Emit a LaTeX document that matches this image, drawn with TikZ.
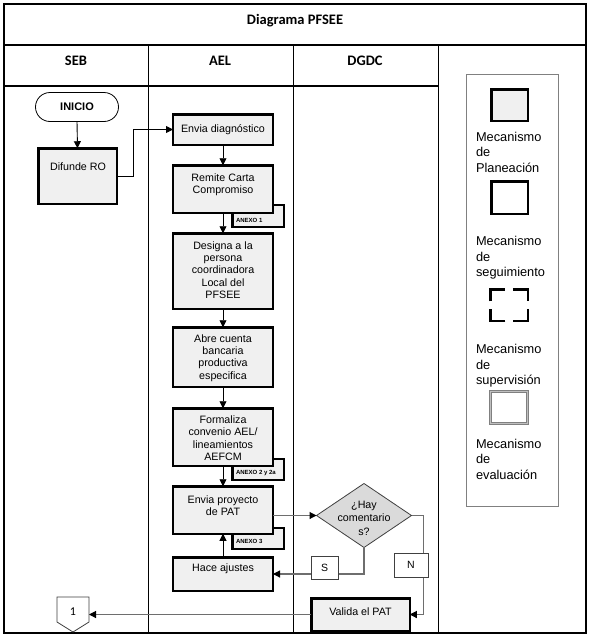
\documentclass[tikz,border=0pt]{standalone}
\usepackage{fontspec}
\setmainfont{Liberation Sans}
\newfontfamily\calibri{Carlito}
\usetikzlibrary{arrows.meta,shapes.geometric}
\definecolor{boxfill}{RGB}{240,240,240}
\definecolor{diafill}{RGB}{218,218,218}
\definecolor{lgray}{RGB}{110,110,110}
\begin{document}
\begin{tikzpicture}[x=1pt,y=-1pt,
  every node/.style={inner sep=0pt, outer sep=0pt},
  pbox/.style={draw=black, line width=2.5pt, fill=boxfill, minimum width=100pt},
  txt/.style={font=\fontsize{10.7}{12.4}\selectfont, align=center},
  tabbox/.style={draw=black, line width=2.5pt, fill=boxfill},
  tabtxt/.style={font=\bfseries\fontsize{6}{7}\selectfont, anchor=west},
  tip/.style={-{Triangle[length=7pt,width=7pt,color=black]}},
  arr/.style={tip, draw=black, line width=0.9pt},
  garr/.style={draw=lgray, line width=1.1pt},
  hdr/.style={font=\calibri\bfseries\fontsize{14.5}{17}\selectfont},
  leg/.style={font=\fontsize{12.8}{15.5}\selectfont, align=left, anchor=west},
  smallbox/.style={draw=darkgray, line width=0.8pt, fill=white, font=\fontsize{10.5}{12}\selectfont}]

\useasboundingbox (0,0) rectangle (590,637);
\fill[white] (0,0) rectangle (590,637);

% frame
\draw[line width=1.4pt] (4,4) rectangle (586,633);
\draw[line width=1.4pt] (4,45) -- (586,45);
\draw[line width=1.2pt] (4,86) -- (438,86);
\foreach \x in {148,293,438} \draw[line width=1pt] (\x,45) -- (\x,633);

% headers
\node[hdr] (title) at (295,21) {Diagrama PFSEE};
\node[hdr] (hseb) at (76,61) {SEB};
\node[hdr] (hael) at (220,61) {AEL};
\node[hdr] (hdgdc) at (365,61) {DGDC};

% SEB lane
\node[draw=black, line width=0.8pt, fill=white, rounded corners=14.5pt,
      minimum width=83pt, minimum height=29pt] (inicio) at (77,107) {};
\node[font=\bfseries\fontsize{11}{13}\selectfont] (tinicio) at (77,107) {INICIO};
\node[pbox, minimum width=78.5pt, minimum height=55.5pt] (difunde) at (77.5,176) {};
\node[txt] (tdifunde) at (78,167) {Difunde RO};

% annex tabs
\draw[tabbox] (232.25,205) rectangle (283.75,226.75);
\node[tabtxt] (anx1) at (236,220.5) {ANEXO 1};
\draw[tabbox] (232.25,459) rectangle (283.75,479.75);
\node[tabtxt] (anx2) at (236,473.5) {ANEXO 2 y 2a};
\draw[tabbox] (232.25,528) rectangle (283.75,548.75);
\node[tabtxt] (anx3) at (236,541) {ANEXO 3};

% AEL lane
\node[pbox, minimum height=30.5pt] (envia) at (223,129.5) {};
\node[txt] (tenvia) at (223,130) {Envia diagnóstico};
\node[pbox, minimum height=47.5pt] (remite) at (223,189) {};
\node[txt] (tremite) at (223,185) {Remite Carta\\Compromiso};
\node[pbox, minimum height=75.5pt] (designa) at (223,271) {};
\node[txt] (tdesigna) at (223,270) {Designa a la\\persona\\coordinadora\\Local del\\PFSEE};
\node[pbox, minimum height=59.5pt] (abre) at (223,357) {};
\node[txt] (tabre) at (223,358) {Abre cuenta\\bancaria\\productiva\\especifica};
\node[pbox, minimum height=57.5pt] (formaliza) at (223,437) {};
\node[txt] (tformaliza) at (223,438) {Formaliza\\convenio AEL/\\lineamientos\\AEFCM};
\node[pbox, minimum height=47.5pt] (enviapat) at (223,510) {};
\node[txt] (tenviapat) at (223,505.5) {Envia proyecto\\de PAT};
\node[pbox, minimum height=33.5pt] (hace) at (223,574) {};
\node[txt] (thace) at (223,569) {Hace ajustes};

% DGDC lane
\node[draw=darkgray, line width=0.8pt, fill=diafill, diamond,
      minimum width=95pt, minimum height=64pt] (dia) at (364,515.5) {};
\node[font=\fontsize{10.7}{13.5}\selectfont, align=center] (tdia) at (364,518) {¿Hay\\comentario\\s?};
\node[pbox, minimum width=98.5pt, minimum height=32.5pt] (valida) at (360.5,614.5) {};
\node[txt] (tvalida) at (360.5,612) {Valida el PAT};

% off-page connector
\node[minimum width=32pt, minimum height=25pt] (one) at (73,609.5) {};
\draw[draw=darkgray, line width=0.8pt, fill=white] (one.north west) -- (one.north east)
  -- (one.south east) -- ([yshift=-10pt]one.south) -- (one.south west) -- cycle;
\node[font=\calibri\fontsize{12}{14}\selectfont] (tone) at (73,612) {1};

% connectors
\draw[arr] (inicio.south) -- (difunde.north);
\draw[arr] (difunde.east) -- ++(17,0) |- (envia.west);
\draw[arr] (envia) -- (remite);
\draw[arr] (remite) -- (designa);
\draw[arr] (designa) -- (abre);
\draw[arr] (abre) -- (formaliza);
\draw[arr] (formaliza) -- (enviapat);
\draw[arr] (hace) -- (enviapat);
\draw[garr, tip] (enviapat.east |- dia.west) -- (dia.west);
\draw[garr] (dia.south) |- (hace.east -| 338,0);
\draw[garr, tip] (311,574) -- (hace.east);
\draw[garr, tip] (dia.east) -- ++(12,0) |- (valida.east);
\draw[garr, tip] (valida.west) -- (valida.west -| one.east);

% S / N labels
\node[smallbox, minimum width=27pt, minimum height=23pt] (sbox) at (324.5,567.5) {S};
\node[smallbox, minimum width=34pt, minimum height=24pt] (nbox) at (411,565) {N};

% legend
\draw[draw=gray, line width=0.7pt] (466,74) rectangle (558,506);
\node[pbox, minimum width=36.5pt, minimum height=31.5pt] (lg1) at (509.5,105) {};
\node[leg] (lt1) at (476,152) {Mecanismo\\de\\Planeación};
\node[draw=black, line width=2.5pt, fill=white, minimum width=36.5pt, minimum height=32.5pt] (lg2) at (509.5,197.5) {};
\node[leg] (lt2) at (476,258) {Mecanismo\\de\\seguimiento};
\draw[line width=2.5pt] (490.25,301.25) -- (490.25,289.25) -- (505.25,289.25);
\draw[line width=2.5pt] (512.75,289.25) -- (527.75,289.25) -- (527.75,301.25);
\draw[line width=2.5pt] (527.75,308.75) -- (527.75,320.75) -- (512.75,320.75);
\draw[line width=2.5pt] (505.25,320.75) -- (490.25,320.75) -- (490.25,308.75);
\node[leg] (lt3) at (476,366) {Mecanismo\\de\\supervisión};
\node[draw=gray, line width=0.9pt, double=lightgray, double distance=1.2pt, fill=white,
      minimum width=37pt, minimum height=32pt] (lg4) at (509,407.5) {};
\node[leg] (lt4) at (476,459) {Mecanismo\\de\\evaluación};
\end{tikzpicture}
\end{document}
